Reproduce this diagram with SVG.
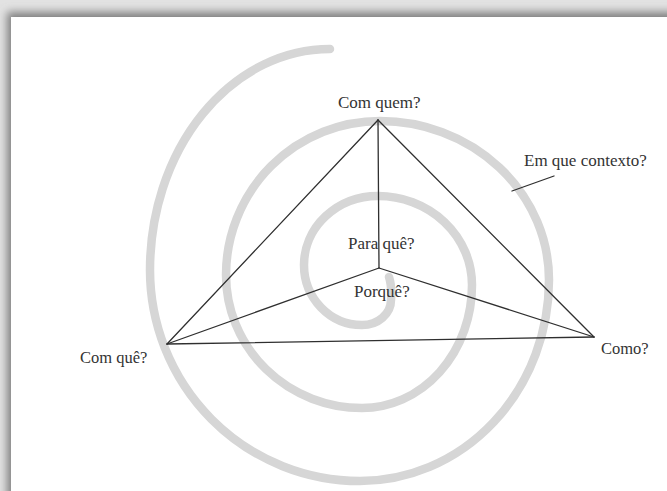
<svg xmlns="http://www.w3.org/2000/svg" width="667" height="491" viewBox="0 0 667 491">
  <style>
    .lbl { font-family: "Liberation Serif", "Times New Roman", serif; font-size: 17px; fill: #333333; }
    .sm { font-size: 16.5px; }
    .edge { stroke: #2f2f2f; stroke-width: 1.3; fill: none; stroke-linecap: round; }
    .spiral { stroke: #d6d6d6; stroke-width: 8.5; fill: none; stroke-linecap: round; }
  </style>
  <defs>
    <filter id="shadow" x="-5%" y="-5%" width="110%" height="110%">
      <feGaussianBlur stdDeviation="4"/>
    </filter>
  </defs>

  <!-- background and panel -->
  <rect x="0" y="0" width="667" height="491" fill="#e2e2e2"/>
  <rect x="7" y="12" width="700" height="520" fill="#808080" filter="url(#shadow)"/>
  <rect x="11" y="17" width="700" height="520" fill="#ffffff"/>

  <!-- spiral -->
  <g id="spiral">
    <path class="spiral" d="M 330 49 A 180 221 0 0 0 150 270 A 210 211 0 0 0 360 481 A 189 201 0 0 0 549 280 A 169 159 0 0 0 380 121 A 154 154 0 0 0 226 275 A 136 133 0 0 0 362 408 A 110 123 0 0 0 472 285 A 94 89 0 0 0 378 196 A 74 69 0 0 0 304 265 A 58 60 0 0 0 362 325 A 29 25 0 0 0 391 300 Q 392 286 389 277"/>
  </g>

  <!-- connectors -->
  <g id="connectors">
    <line class="edge" x1="378" y1="120" x2="167" y2="344"/>
    <line class="edge" x1="378" y1="120" x2="594" y2="337"/>
    <line class="edge" x1="167" y1="344" x2="594" y2="337"/>
    <line class="edge" x1="379" y1="268" x2="378" y2="120"/>
    <line class="edge" x1="379" y1="268" x2="167" y2="344"/>
    <line class="edge" x1="379" y1="268" x2="594" y2="337"/>
    <line class="edge" x1="512" y1="191" x2="554" y2="176"/>
  </g>

  <!-- nodes -->
  <g id="node-com-quem">
    <text class="lbl" x="338" y="108">Com quem?</text>
  </g>
  <g id="node-contexto">
    <text class="lbl" x="524" y="166">Em que contexto?</text>
  </g>
  <g id="node-para-que">
    <text class="lbl" x="348" y="249">Para quê?</text>
  </g>
  <g id="node-porque">
    <text class="lbl" x="354" y="297">Porquê?</text>
  </g>
  <g id="node-com-que">
    <text class="lbl sm" x="80" y="363">Com quê?</text>
  </g>
  <g id="node-como">
    <text class="lbl sm" x="601" y="354">Como?</text>
  </g>
</svg>
